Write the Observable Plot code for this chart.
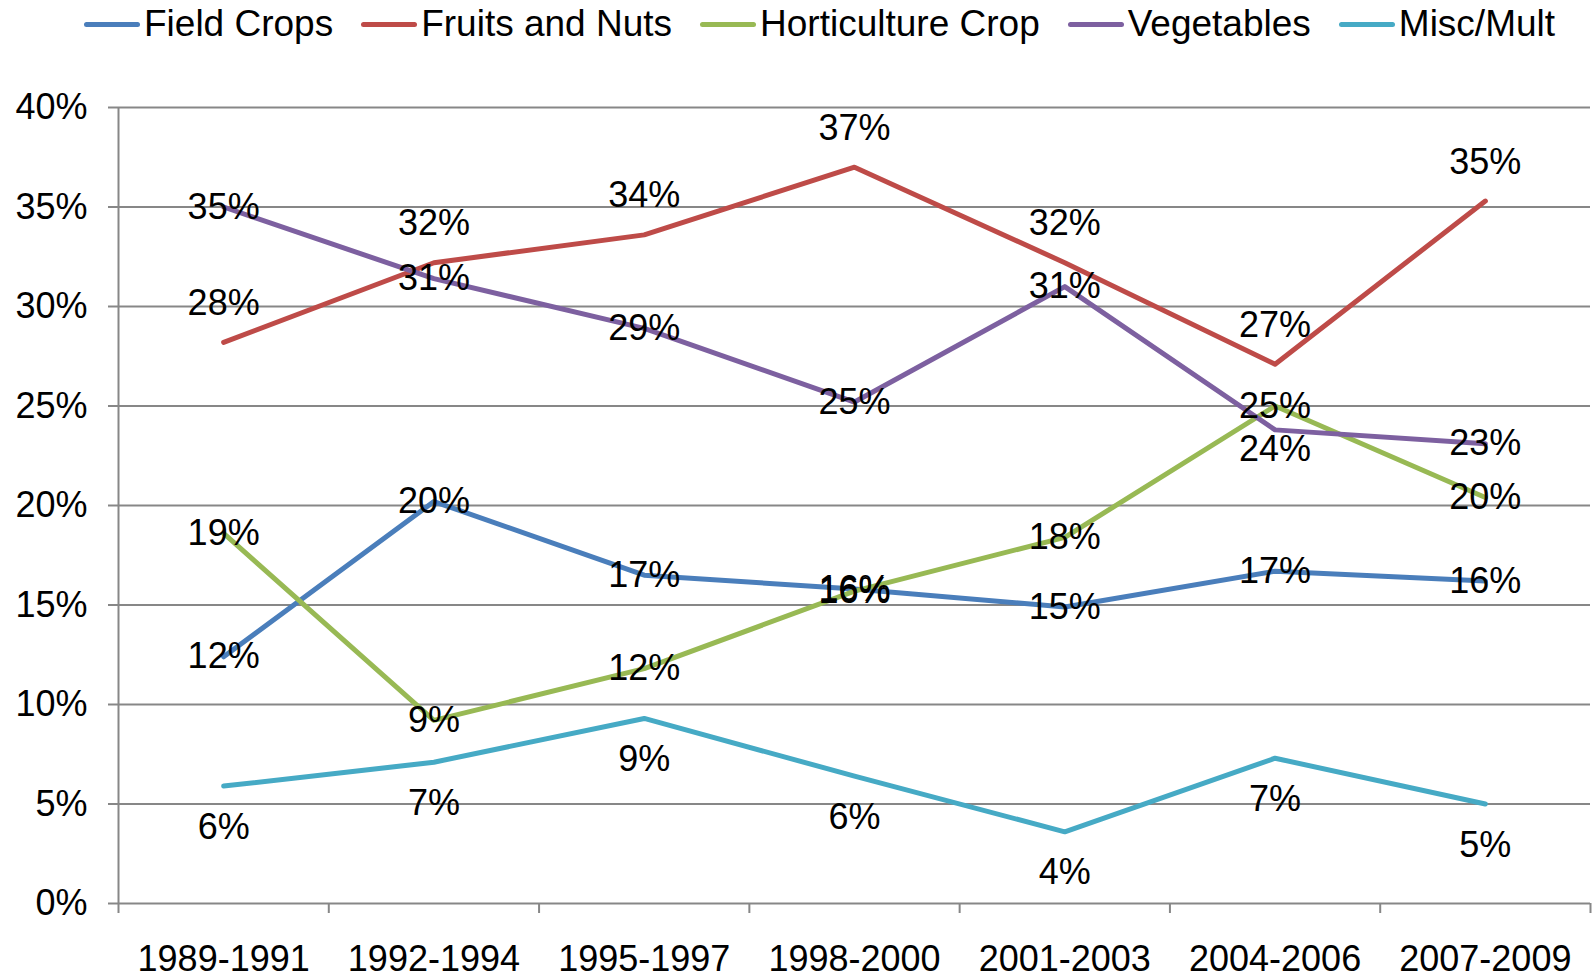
<!DOCTYPE html>
<html>
<head>
<meta charset="utf-8">
<script src="https://cdn.jsdelivr.net/npm/d3@7"></script>
<script src="https://cdn.jsdelivr.net/npm/@observablehq/plot@0.6"></script>
<style>
  html, body { margin: 0; padding: 0; background: #fff; }
  body { width: 1595px; height: 976px; overflow: hidden; font-family: "Liberation Sans", Arial, sans-serif; }
  #legend { height: 48px; display: flex; align-items: center; padding-left: 84px; box-sizing: border-box; }
  .item { display: flex; align-items: center; margin-right: 28px; font-size: 37px; color: #000; white-space: nowrap; }
  .sw { width: 56px; height: 5px; border-radius: 3px; margin-right: 4px; }
  svg { display: block; }
</style>
</head>
<body>
<div id="legend"></div>
<div id="chart"></div>
<script>
const periods = ["1989-1991", "1992-1994", "1995-1997", "1998-2000", "2001-2003", "2004-2006", "2007-2009"];
const seriesNames = ["Field Crops", "Fruits and Nuts", "Horticulture Crop", "Vegetables", "Misc/Mult"];
const seriesColors = ["#4A7EBB", "#BE4B48", "#98B954", "#7D60A0", "#46AAC5"];

const fieldCrops   = [12.4, 20.2, 16.5, 15.8, 14.9, 16.7, 16.2];
const fruitsNuts   = [28.2, 32.2, 33.6, 37.0, 32.2, 27.1, 35.3];
const horticulture = [18.6, 9.2, 11.8, 15.7, 18.4, 25.0, 20.4];
const vegetables   = [35.0, 31.4, 28.9, 25.2, 31.0, 23.8, 23.1];
const miscMult     = [5.9, 7.1, 9.3, 6.4, 3.6, 7.3, 5.0];

const yTicks = [0, 5, 10, 15, 20, 25, 30, 35, 40];

const seriesValues = [fieldCrops, fruitsNuts, horticulture, vegetables, miscMult];
const rows = [];
seriesNames.forEach((s, si) => {
  periods.forEach((p, i) => {
    rows.push({series: s, period: p, xi: i + 0.5, value: seriesValues[si][i]});
  });
});

// Legend
const legend = document.getElementById("legend");
seriesNames.forEach((s, i) => {
  const it = document.createElement("div");
  it.className = "item";
  const sw = document.createElement("span");
  sw.className = "sw";
  sw.style.background = seriesColors[i];
  it.appendChild(sw);
  it.appendChild(document.createTextNode(s));
  legend.appendChild(it);
});

const gray = "#878787";
const fmt = d => Math.round(d.value) + "%";
const isCentered = d => d.series !== "Fruits and Nuts" && d.series !== "Misc/Mult" && !(d.series === "Vegetables" && d.period === "2004-2006");

const chart = Plot.plot({
  width: 1595,
  height: 928,
  marginTop: 59,
  marginBottom: 73,
  marginLeft: 118,
  marginRight: 5,
  style: {fontFamily: "'Liberation Sans', Arial, sans-serif", fontSize: "36px", color: "#000", background: "#fff", overflow: "visible"},
  x: {type: "linear", domain: [0, periods.length]},
  y: {domain: [0, 40]},
  color: {domain: seriesNames, range: seriesColors},
  marks: [
    Plot.gridY({ticks: yTicks, stroke: gray, strokeOpacity: 1, strokeWidth: 2}),
    Plot.ruleX([0], {stroke: gray, strokeWidth: 2}),
    Plot.axisY({ticks: yTicks, tickFormat: d => d + "%", tickSize: 10, tickPadding: 21, stroke: gray, strokeWidth: 2, strokeOpacity: 1, fill: "#000", fontSize: 36, label: null}),
    Plot.axisX({ticks: d3.range(periods.length + 1), tickFormat: () => "", tickSize: 10, stroke: gray, strokeWidth: 2, strokeOpacity: 1, label: null}),
    Plot.axisX({ticks: periods.map((p, i) => i + 0.5), tickFormat: v => periods[Math.floor(v)], tickSize: 0, tickPadding: 42, fill: "#000", fontSize: 36, label: null}),
    Plot.line(rows, {x: "xi", y: "value", z: "series", stroke: "series", strokeWidth: 5, strokeLinejoin: "round", strokeLinecap: "round"}),
    Plot.text(rows.filter(isCentered), {x: "xi", y: "value", text: fmt, fill: "#000", fontSize: 36}),
    Plot.text(rows.filter(d => d.series === "Fruits and Nuts"), {x: "xi", y: "value", text: fmt, fill: "#000", fontSize: 36, dy: -39}),
    Plot.text(rows.filter(d => d.series === "Misc/Mult"), {x: "xi", y: "value", text: fmt, fill: "#000", fontSize: 36, dy: 41}),
    Plot.text(rows.filter(d => d.series === "Vegetables" && d.period === "2004-2006"), {x: "xi", y: "value", text: fmt, fill: "#000", fontSize: 36, dy: 20})
  ]
});
document.getElementById("chart").appendChild(chart);
</script>
</body>
</html>
